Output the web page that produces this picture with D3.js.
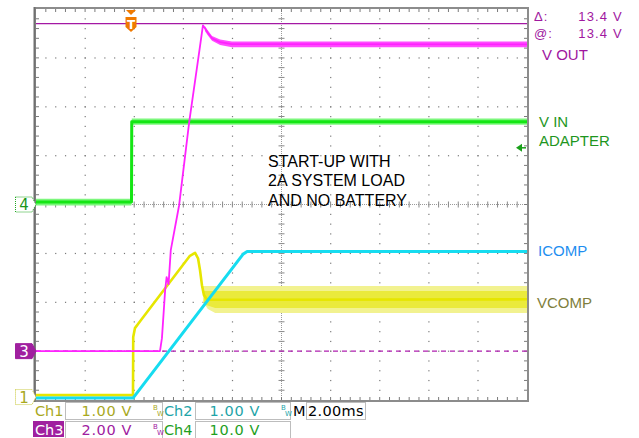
<!DOCTYPE html>
<html>
<head>
<meta charset="utf-8">
<script src="https://cdn.jsdelivr.net/npm/d3@7"></script>
<style>
  body { margin: 0; background: #fff; }
  svg { display: block; }
</style>
</head>
<body>
<svg id="scope"></svg>
<script>
// scope settings
let msPerDiv = 2;
let chNames = ["Ch1", "Ch2", "Ch3", "Ch4"];
let chVoltsPerDiv = [1, 1, 2, 10];
let chGroundDiv = [-3.94, -4, -3, 0]; // ground marker, in divisions from centre
let triggerTime = 3.87; // ms from left edge
let triggerLevel = 11.6; // volts on Ch4
let cursorLevels = [13.4, 0]; // volts on Ch3

// Ch1 - VCOMP (time in ms, volts)
let vcompTime = [0, 3.951, 3.96, 4.03, 4.24, 6.27, 6.48, 6.6, 6.68, 6.76, 6.84, 6.97, 20];
let vcompV = [0.04, 0.04, 1.23, 1.41, 1.55, 2.89, 2.95, 2.84, 2.6, 2.29, 2.09, 1.99, 2.0];
let vcompBandTime = [6.8, 7.0, 7.3, 20];
let vcompBandHi = [2.27, 2.27, 2.27, 2.27];
let vcompBandLo = [1.95, 1.8, 1.72, 1.72];
let vcompCoreTime = [6.84, 7.3, 20];
let vcompCoreHi = [2.17, 2.17, 2.17];
let vcompCoreLo = [1.9, 1.82, 1.82];

// Ch2 - ICOMP
let icompTime = [0, 3.95, 8.43, 8.6, 20];
let icompV = [0.04, 0.04, 2.98, 3.04, 3.04];

// Ch3 - V OUT
let voutTime = [0, 5.05, 5.13, 5.26, 5.32, 5.4, 5.49, 5.83, 6.24, 6.68, 6.8, 6.88, 7.01, 7.17, 7.5, 7.98, 20];
let voutV = [0.0, 0.0, 0.53, 2.49, 3.03, 2.74, 4.13, 5.97, 9.37, 12.47, 13.33, 13.21, 13.01, 12.8, 12.64, 12.56, 12.55];
let voutSettledTime = [6.88, 7.01, 7.17, 7.5, 7.98, 20];
let voutSettledHi = [13.3, 13.11, 12.9, 12.75, 12.67, 12.67];
let voutSettledLo = [13.1, 12.91, 12.7, 12.53, 12.43, 12.43];

// Ch4 - V IN ADAPTER
let vinTime = [0, 3.89, 3.9, 20];
let vinV = [0.5, 0.5, 16.95, 16.95];
let vinLowTime = [0, 3.89];
let vinLowHi = [1.2, 1.2];
let vinLowLo = [-0.2, -0.2];
let vinHighTime = [3.9, 20];
let vinHighHi = [17.6, 17.6];
let vinHighLo = [16.3, 16.3];

let noteLines = ["START-UP WITH", "2A SYSTEM LOAD", "AND NO BATTERY"];

let width = 639;
let height = 438;
let svg = d3.select("#scope").attr("width", width).attr("height", height);

let plotL = 36, plotR = 527, plotT = 9, plotB = 400;
let x = d3.scaleLinear().domain([0, 10 * msPerDiv]).range([plotL, plotR]);
let xDiv = d3.scaleLinear().domain([0, 10]).range([plotL, plotR]);
let yDiv = d3.scaleLinear().domain([-4, 4]).range([plotB, plotT]);
function yCh(ch, v) {
  return yDiv(v / chVoltsPerDiv[ch] + chGroundDiv[ch]);
}

// ---- graticule
let grid = svg.append("g");
let minor = d3.range(1, 50).map(function (k) { return k / 5; });
let minorY = d3.range(1, 40).map(function (k) { return -4 + k / 5; });

[1, 2, 3, 4, 6, 7, 8, 9].forEach(function (i) {
  grid.selectAll(null).data(minorY).enter().append("rect")
    .attr("x", xDiv(i) - 0.5).attr("y", function (d) { return yDiv(d) - 0.5; })
    .attr("width", 1.2).attr("height", 1.2).attr("fill", "#7a7a7a");
});
[-3, -2, -1, 1, 2, 3].forEach(function (j) {
  grid.selectAll(null).data(minor).enter().append("rect")
    .attr("x", function (d) { return xDiv(d) - 0.5; }).attr("y", yDiv(j) - 0.5)
    .attr("width", 1.2).attr("height", 1.2).attr("fill", "#7a7a7a");
});

// centre lines
grid.append("line").attr("x1", xDiv(5)).attr("x2", xDiv(5)).attr("y1", plotT).attr("y2", plotB)
  .attr("stroke", "#9a9a9a").attr("stroke-dasharray", "1,1");
grid.append("line").attr("x1", plotL).attr("x2", plotR).attr("y1", yDiv(0)).attr("y2", yDiv(0))
  .attr("stroke", "#9a9a9a").attr("stroke-dasharray", "1,1");
grid.selectAll(null).data(minorY).enter().append("line")
  .attr("x1", xDiv(5) - 3).attr("x2", xDiv(5) + 3)
  .attr("y1", function (d) { return yDiv(d); }).attr("y2", function (d) { return yDiv(d); })
  .attr("stroke", "#8a8a8a");
grid.selectAll(null).data(minor).enter().append("line")
  .attr("y1", yDiv(0) - 3).attr("y2", yDiv(0) + 3)
  .attr("x1", function (d) { return xDiv(d); }).attr("x2", function (d) { return xDiv(d); })
  .attr("stroke", "#8a8a8a");

// edge ticks
grid.selectAll(null).data(minor).enter().append("path")
  .attr("d", function (d) {
    let px = xDiv(d);
    return "M" + px + "," + plotT + "v3M" + px + "," + plotB + "v-3";
  })
  .attr("stroke", "#7a7a7a");
grid.selectAll(null).data(minorY).enter().append("path")
  .attr("d", function (d) {
    let py = yDiv(d);
    return "M" + plotL + "," + py + "h3M" + plotR + "," + py + "h-3";
  })
  .attr("stroke", "#7a7a7a");

grid.append("rect")
  .attr("x", plotL - 1).attr("y", plotT - 1)
  .attr("width", plotR - plotL + 2).attr("height", plotB - plotT + 2)
  .attr("fill", "none").attr("stroke", "#8c8c8c").attr("stroke-width", 2);
grid.append("line").attr("x1", plotL - 1.5).attr("x2", plotL - 1.5).attr("y1", plotT - 2).attr("y2", plotB + 2)
  .attr("stroke", "#707070").attr("stroke-width", 2);

// ---- cursors
svg.append("line")
  .attr("x1", plotL).attr("x2", plotR)
  .attr("y1", yCh(2, cursorLevels[1])).attr("y2", yCh(2, cursorLevels[1]))
  .attr("stroke", "#b020b0").attr("stroke-width", 1.2).attr("stroke-dasharray", "5,4");

// ---- traces
function lineFor(ch) {
  return d3.line().x(function (d) { return x(d[0]); }).y(function (d) { return yCh(ch, d[1]); });
}
function areaFor(ch) {
  return d3.area().x(function (d) { return x(d[0]); })
    .y0(function (d) { return yCh(ch, d[1]); })
    .y1(function (d) { return yCh(ch, d[2]); });
}
let traces = svg.append("g").attr("fill", "none").attr("stroke-linejoin", "round");

// Ch1 VCOMP
traces.append("path").datum(d3.zip(vcompBandTime, vcompBandLo, vcompBandHi))
  .attr("d", areaFor(0)).attr("fill", "#f2f290").attr("stroke", "none");
traces.append("path").datum(d3.zip(vcompCoreTime, vcompCoreLo, vcompCoreHi))
  .attr("d", areaFor(0)).attr("fill", "#eaea3c").attr("stroke", "none");
traces.append("path").datum(d3.zip(vcompTime, vcompV))
  .attr("d", lineFor(0)).attr("stroke", "#e6e600").attr("stroke-width", 2.6);

// Ch2 ICOMP
traces.append("path").datum(d3.zip(icompTime, icompV))
  .attr("d", lineFor(1)).attr("stroke", "#16dcf0").attr("stroke-width", 3);

// Ch4 V IN
traces.append("path").datum(d3.zip(vinLowTime, vinLowLo, vinLowHi))
  .attr("d", areaFor(3)).attr("fill", "#7cf77c").attr("stroke", "none");
traces.append("path").datum(d3.zip(vinHighTime, vinHighLo, vinHighHi))
  .attr("d", areaFor(3)).attr("fill", "#7cf77c").attr("stroke", "none");
traces.append("path").datum(d3.zip(vinTime, vinV))
  .attr("d", lineFor(3)).attr("stroke", "#14e614").attr("stroke-width", 3);

// Ch3 V OUT
traces.append("path").datum(d3.zip(voutSettledTime, voutSettledLo, voutSettledHi))
  .attr("d", areaFor(2)).attr("fill", "#ff4cff").attr("stroke", "none");
traces.append("path").datum(d3.zip(voutTime, voutV))
  .attr("d", lineFor(2)).attr("stroke", "#ff22ff").attr("stroke-width", 1.8);

// cursor @ level
svg.append("line")
  .attr("x1", plotL).attr("x2", plotR)
  .attr("y1", yCh(2, cursorLevels[0])).attr("y2", yCh(2, cursorLevels[0]))
  .attr("stroke", "#a418a4").attr("stroke-width", 1.3);

// ---- trigger marker
let tx = x(triggerTime);
svg.append("path")
  .attr("d", "M" + (tx - 5) + "," + (plotT + 1) + "h10l-5,5z")
  .attr("fill", "#f07a00");
svg.append("path")
  .attr("d", "M" + (tx - 5.5) + ",17h11v10l-5.5,5l-5.5,-5z")
  .attr("fill", "#f07a00");
svg.append("text").attr("x", tx).attr("y", 28.5).attr("text-anchor", "middle")
  .attr("font-family", "DejaVu Sans, sans-serif").attr("font-size", 12).attr("font-weight", "bold")
  .attr("fill", "#fff").text("T");

// trigger level arrow (Ch4)
let ty = yCh(3, triggerLevel);
svg.append("path").attr("d", "M" + (plotR - 11) + "," + ty + "l6,-4v8z").attr("fill", "#1aa01a");
svg.append("line").attr("x1", plotR - 6).attr("x2", plotR - 1).attr("y1", ty).attr("y2", ty)
  .attr("stroke", "#1aa01a").attr("stroke-width", 1.5);

// ---- channel ground markers
let markerStyle = [
  { ch: 0, fill: "#fff", stroke: "#c8c83a", text: "#a8a81e", dash: "1,1" },
  { ch: 2, fill: "#a0209f", stroke: "#a0209f", text: "#fff", dash: null },
  { ch: 3, fill: "#fff", stroke: "#22a822", text: "#1a961a", dash: "1,1" }
];
markerStyle.forEach(function (m) {
  let my = yCh(m.ch, 0);
  svg.append("path")
    .attr("d", "M15.5," + (my - 7.5) + "h16.5l4,7.5l-4,7.5h-16.5z")
    .attr("fill", m.fill).attr("stroke", m.stroke).attr("stroke-dasharray", m.dash);
  svg.append("text").attr("x", 24).attr("y", my + 5.5).attr("text-anchor", "middle")
    .attr("font-family", "DejaVu Sans, sans-serif").attr("font-size", 15)
    .attr("fill", m.text).text(chNames[m.ch].slice(2));
});

// ---- labels
let labelFont = "Liberation Sans, Arial, sans-serif";
let readout = svg.append("g").attr("font-family", labelFont).attr("font-size", 13).attr("fill", "#a0189f");
let deltaV = cursorLevels[0] - cursorLevels[1];
[["\u0394:", deltaV, 21], ["@:", cursorLevels[0], 38]].forEach(function (r) {
  readout.append("text").attr("x", 534).attr("y", r[2]).attr("letter-spacing", 1).text(r[0]);
  readout.append("text").attr("x", 623).attr("y", r[2]).attr("text-anchor", "end")
    .attr("letter-spacing", 1.2).text(d3.format(".1f")(r[1]) + " V");
});

let traceLabels = [
  { t: "V OUT", x: 542, y: 60, c: "#a0169f" },
  { t: "V IN", x: 539, y: 127, c: "#1e961e" },
  { t: "ADAPTER", x: 539, y: 146, c: "#1e961e" },
  { t: "ICOMP", x: 538, y: 256, c: "#1e8ef0" },
  { t: "VCOMP", x: 537, y: 308, c: "#7e7e3c" }
];
svg.selectAll(null).data(traceLabels).enter().append("text")
  .attr("x", function (d) { return d.x; }).attr("y", function (d) { return d.y; })
  .attr("font-family", labelFont).attr("font-size", 15).attr("fill", function (d) { return d.c; })
  .text(function (d) { return d.t; });

svg.selectAll(null).data(noteLines).enter().append("text")
  .attr("x", 268).attr("y", function (d, i) { return 167 + i * 19.3; })
  .attr("font-family", labelFont).attr("font-size", 16).attr("fill", "#000")
  .text(function (d) { return d; });

// ---- status bar
let statusFont = "DejaVu Sans, sans-serif";
let chColors = ["#a8a81e", "#1ea4a8", "#a0209f", "#1ea01e"];
let fmt = d3.format(".3r");
let cells = [
  { ch: 0, lx: 35, bx: 65, bw: 97, by: 402, bwMark: true },
  { ch: 1, lx: 164, bx: 195, bw: 95, by: 402, bwMark: true },
  { ch: 2, lx: 35, bx: 65, bw: 97, by: 421, bwMark: true },
  { ch: 3, lx: 164, bx: 195, bw: 95, by: 421, bwMark: false }
];
let status = svg.append("g").attr("font-family", statusFont);
cells.forEach(function (c) {
  let col = chColors[c.ch];
  if (c.ch === 2) {
    status.append("rect").attr("x", 33).attr("y", c.by).attr("width", 31).attr("height", 16).attr("fill", col);
  }
  status.append("text").attr("x", c.lx).attr("y", c.by + 14).attr("font-size", 14.5)
    .attr("fill", c.ch === 2 ? "#fff" : col).text(chNames[c.ch]);
  status.append("rect").attr("x", c.bx + 0.5).attr("y", c.by + 0.5).attr("width", c.bw).attr("height", 17)
    .attr("fill", "#fff").attr("stroke", "#bdbdbd");
  status.append("text").attr("x", c.bx + c.bw - 30).attr("y", c.by + 14).attr("font-size", 14.5)
    .attr("text-anchor", "end").attr("letter-spacing", 0.6).attr("fill", col)
    .text(fmt(chVoltsPerDiv[c.ch]) + " V");
  if (c.bwMark) {
    let bx = c.bx + c.bw - 9;
    status.append("text").attr("x", bx).attr("y", c.by + 8).attr("font-size", 7).attr("fill", col).text("B");
    status.append("text").attr("x", bx + 4).attr("y", c.by + 14).attr("font-size", 7).attr("fill", col).text("W");
  }
});
status.append("text").attr("x", 293).attr("y", 416).attr("font-size", 14.5).attr("fill", "#000").text("M");
status.append("rect").attr("x", 306.5).attr("y", 402.5).attr("width", 59).attr("height", 17)
  .attr("fill", "#fff").attr("stroke", "#bdbdbd");
status.append("text").attr("x", 308).attr("y", 416).attr("font-size", 14.5).attr("letter-spacing", 0.3)
  .attr("fill", "#000").text(fmt(msPerDiv) + "ms");
</script>
</body>
</html>
